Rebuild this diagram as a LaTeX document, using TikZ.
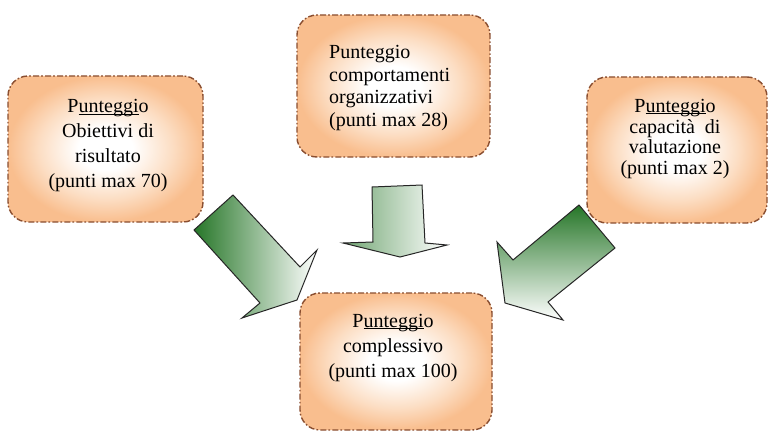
\documentclass[tikz,border=0pt]{standalone}
\usepackage{fontspec}
\setmainfont{Liberation Serif}
\usetikzlibrary{shadings}
\definecolor{peach}{RGB}{249,190,142}
\definecolor{peachmid}{RGB}{252,222,196}
\definecolor{boxborder}{RGB}{138,78,48}
\definecolor{arrgreen}{RGB}{38,118,40}
\pgfdeclareradialshading{boxshade}{\pgfpoint{0bp}{0bp}}{color(0bp)=(white); color(7bp)=(white); color(17bp)=(peachmid); color(25bp)=(peach); color(50bp)=(peach)}
\newcommand\myul[1]{\setbox0\hbox{#1}\rlap{\rule[-1.6pt]{\wd0}{0.8pt}}\box0}
\tikzset{
  scorebox/.style={shape=rectangle, rounded corners=20pt, shading=boxshade,
    draw=boxborder, line width=1.4pt,
    dash pattern=on 6pt off 2.2pt on 1.6pt off 2.2pt, inner sep=0pt},
  boxtext/.style={inner sep=0pt, text=black},
  bigarrow/.style={draw=black!85, line width=1pt, line join=miter}
}
\begin{document}
\begin{tikzpicture}[x=1pt,y=-1pt]
\useasboundingbox (0,0) rectangle (768,433);
\fill[white] (0,0) rectangle (768,433);
% boxes
\node[scorebox, minimum width=195pt, minimum height=146pt] (bl) at (105.5,149) {};
\node[scorebox, minimum width=193pt, minimum height=142pt] (bm) at (393.5,86) {};
\node[scorebox, minimum width=180pt, minimum height=146pt] (br) at (677,150) {};
\node[scorebox, minimum width=192pt, minimum height=137pt] (bb) at (396,361.5) {};
% texts
\node[boxtext, align=center, font=\fontsize{20}{25}\selectfont] (tl) at (108,146)
  {P\myul{unteggi}o\\Obiettivi di\\risultato\\(punti max 70)};
\node[boxtext, align=left, anchor=west, font=\fontsize{20}{22.5}\selectfont] (tm) at (329,88)
  {Punteggio\\comportamenti\\organizzativi\\(punti max 28)};
\node[boxtext, align=center, font=\fontsize{20}{20.8}\selectfont] (tr) at (675,139)
  {P\myul{unteggi}o\\capacit\`a\ \ di\\valutazione\\(punti max 2)};
\node[boxtext, align=center, font=\fontsize{20}{25}\selectfont] (tb) at (393,348)
  {P\myul{unteggi}o\\complessivo\\(punti max 100)};
% arrows
\shadedraw[bigarrow, left color=arrgreen, middle color=arrgreen!40!white, right color=white]
  (233,195) -- (300,267) -- (317,250) -- (297,300) -- (242,318) -- (260,303) -- (194,230) -- cycle;
\shadedraw[bigarrow, top color=arrgreen, middle color=arrgreen!40!white, bottom color=white]
  (579,205) -- (615,248) -- (548,302) -- (563,320) -- (505,303) -- (497,242) -- (513,260) -- cycle;
\shadedraw[bigarrow, left color=arrgreen!65!white, right color=white]
  (372,187) -- (422,185) -- (425,243) -- (447,245) -- (400,257) -- (343,243) -- (373,242) -- cycle;
\end{tikzpicture}
\end{document}
